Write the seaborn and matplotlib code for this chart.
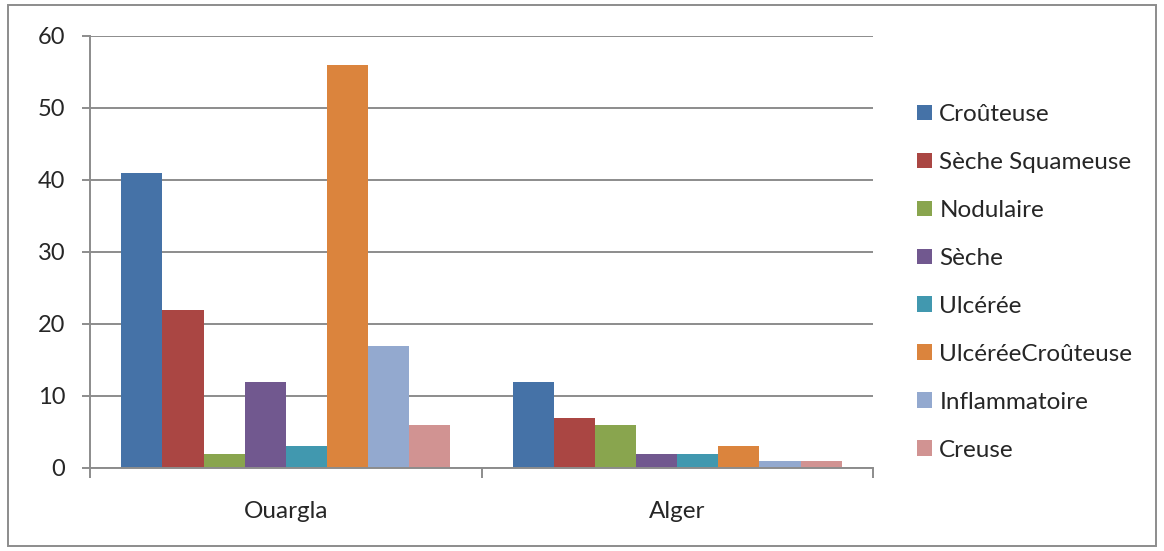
import pandas as pd
import matplotlib.pyplot as plt
import seaborn as sns
from matplotlib.patches import Rectangle

# data
regions = ['Ouargla', 'Alger']
types = ['Croûteuse', 'Sèche Squameuse', 'Nodulaire', 'Sèche', 'Ulcérée',
         'UlcéréeCroûteuse', 'Inflammatoire', 'Creuse']
ouargla = [41, 22, 2, 12, 3, 56, 17, 6]
alger = [12, 7, 6, 2, 2, 3, 1, 1]
colors = ['#4572A7', '#AA4643', '#89A54E', '#71588F', '#4198AF',
          '#DB843D', '#93A9CF', '#D19392']

rows = []
for t, a, b in zip(types, ouargla, alger):
    rows.append({'Region': 'Ouargla', 'Type': t, 'Count': a})
    rows.append({'Region': 'Alger', 'Type': t, 'Count': b})
df = pd.DataFrame(rows)

sns.set_style('white')
plt.rcParams['font.family'] = ['Lato', 'DejaVu Sans']

fig = plt.figure(figsize=(11.64, 5.51), dpi=100)
ax = fig.add_axes([90 / 1164, 1 - 468 / 551, (873 - 90) / 1164, (468 - 36) / 551])

sns.barplot(data=df, x='Region', y='Count', hue='Type', order=regions,
            hue_order=types, palette=colors, width=0.84, gap=0,
            saturation=1, edgecolor='none', ax=ax)

grey = '#8c8c8c'
ax.set_ylim(0, 60)
ax.set_xlim(-0.5, 1.5)
ax.set_yticks(range(0, 61, 10))
ax.yaxis.grid(True, color=grey, linewidth=1.4)
ax.set_axisbelow(True)
for s in ['top', 'right']:
    ax.spines[s].set_visible(False)
for s in ['left', 'bottom']:
    ax.spines[s].set_color(grey)
    ax.spines[s].set_linewidth(1.4)

ax.tick_params(axis='y', which='major', length=5.8, width=1.4, color=grey,
               labelsize=17, pad=12, left=True)
ax.set_xticks([-0.5, 0.5, 1.5], minor=True)
ax.tick_params(axis='x', which='minor', length=7.2, width=1.4, color=grey,
               bottom=True)
ax.tick_params(axis='x', which='major', length=0, labelsize=17.5, pad=24)
ax.set_xlabel('')
ax.set_ylabel('')

handles, labels = ax.get_legend_handles_labels()
ax.legend(handles, labels, loc='upper left', bbox_to_anchor=(917 / 1164, 1 - 104 / 551),
          bbox_transform=fig.transFigure, frameon=False, fontsize=17.5,
          handlelength=0.62, handleheight=0.62, handletextpad=0.3,
          labelspacing=1.11, borderaxespad=0, borderpad=0)

fig.patches.append(Rectangle((8 / 1164, 1 - 546 / 551), (1156 - 8) / 1164, (546 - 5) / 551,
                             transform=fig.transFigure, fill=False,
                             edgecolor=grey, linewidth=1.4))

fig.savefig('out.png', dpi=100)
